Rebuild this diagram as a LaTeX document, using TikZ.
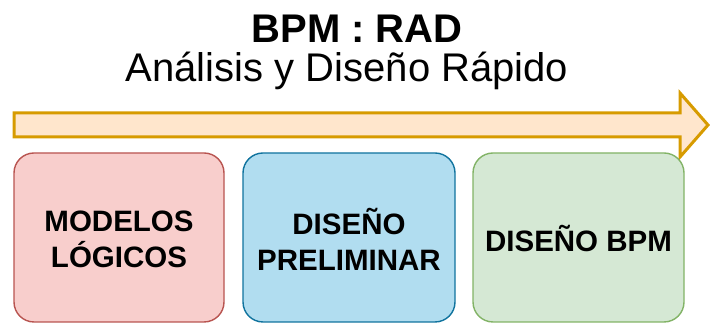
\documentclass[tikz,border=0pt]{standalone}
\usepackage{fontspec}
\setmainfont{Liberation Sans}
\begin{document}
\begin{tikzpicture}[x=1pt,y=1pt,
  phase/.style={rounded corners=20pt, line width=1.4pt},
  phasetext/.style={font=\fontsize{29.5}{36}\selectfont\bfseries, align=center, text=black},
  redbox/.style={phase, draw=drawred, fill=fillred},
  bluebox/.style={phase, draw=drawblue, fill=fillblue},
  greenbox/.style={phase, draw=drawgreen, fill=fillgreen}]
\definecolor{drawred}{HTML}{B85450}
\definecolor{fillred}{HTML}{F8CECC}
\definecolor{drawblue}{HTML}{10739E}
\definecolor{fillblue}{HTML}{B1DDF0}
\definecolor{drawgreen}{HTML}{82B366}
\definecolor{fillgreen}{HTML}{D5E8D4}
\definecolor{arrowdraw}{HTML}{D79B00}
\definecolor{arrowfill}{HTML}{FFE6CC}
\useasboundingbox (0,0) rectangle (710,323);
% title
\node[anchor=base, inner sep=0pt, text depth=0pt, font=\fontsize{40}{40}\selectfont\bfseries] (title) at (357,280) {BPM : RAD};
\node[anchor=base, inner sep=0pt, text height=30pt, font=\fontsize{40}{40}\selectfont] (subtitle) at (347,241) {Análisis y Diseño Rápido};
% arrow
\draw[draw=arrowdraw, fill=arrowfill, line width=3pt, line join=miter]
  (14,210) -- (680,210) -- (680,230) -- (708,198) -- (680,166) -- (680,186) -- (14,186) -- cycle;
% boxes
\draw[redbox] (14,1) rectangle (224,170);
\draw[bluebox] (243,1) rectangle (455,170);
\draw[greenbox] (473,1) rectangle (684,170);
\node[phasetext] (m) at (119,84) {MODELOS\\LÓGICOS};
\node[phasetext] (d) at (349,84) {DISEÑO\\PRELIMINAR};
\node[phasetext] (b) at (578.5,84) {DISEÑO BPM};
\end{tikzpicture}
\end{document}
